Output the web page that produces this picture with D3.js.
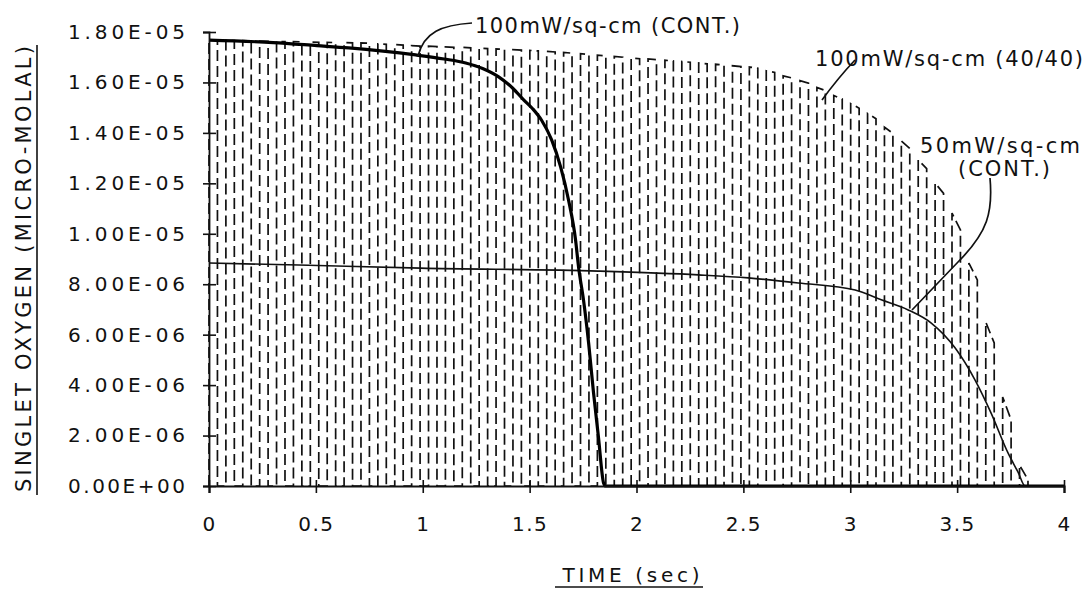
<!DOCTYPE html>
<html>
<head>
<meta charset="utf-8">
<script src="https://cdn.jsdelivr.net/npm/d3@7"></script>
<style>
  html, body { margin: 0; padding: 0; background: #fff; }
  svg { display: block; }
  text { font-family: "DejaVu Sans", sans-serif; fill: #111; }
</style>
</head>
<body>
<svg id="chart" width="1086" height="590"></svg>
<script>
// values in units of 1e-6 micro-molal
const xTicks = [0, 0.5, 1, 1.5, 2, 2.5, 3, 3.5, 4];
const xTickLabels = ["0", "0.5", "1", "1.5", "2", "2.5", "3", "3.5", "4"];
const yTicks = [0, 2, 4, 6, 8, 10, 12, 14, 16, 18];
const yTickLabels = ["0.00E+00", "2.00E-06", "4.00E-06", "6.00E-06", "8.00E-06",
  "1.00E-05", "1.20E-05", "1.40E-05", "1.60E-05", "1.80E-05"];

// 100 mW/sq-cm continuous
const cont100 = [
  [0, 17.68], [0.3, 17.58], [0.505, 17.46], [0.654, 17.37], [0.967, 17.09],
  [1.1, 16.93], [1.201, 16.77], [1.28, 16.55], [1.355, 16.22], [1.42, 15.78],
  [1.472, 15.31], [1.515, 14.95], [1.556, 14.50], [1.603, 13.72], [1.645, 12.65],
  [1.682, 11.34], [1.715, 9.75], [1.729, 8.68], [1.752, 7.38], [1.776, 5.67],
  [1.799, 3.69], [1.822, 1.94], [1.846, 0.12], [1.855, 0], [4, 0]
];

// 50 mW/sq-cm continuous
const cont50 = [
  [0, 8.84], [0.42, 8.76], [0.99, 8.64], [1.822, 8.52], [2.29, 8.37],
  [2.523, 8.25], [2.757, 8.05], [3.023, 7.77], [3.145, 7.38], [3.271, 6.98],
  [3.379, 6.46], [3.491, 5.47], [3.584, 4.20], [3.659, 2.89], [3.738, 1.31],
  [3.785, 0.55], [3.818, 0], [4, 0]
];

// 100 mW/sq-cm pulsed 40/40 : value at start and end of each light period
const pulsePeriod = 0.079;
const pulseOn = 0.0395;
const pulsePeak = [
  17.68, 17.67, 17.66, 17.64, 17.63, 17.62, 17.60, 17.59, 17.58, 17.57,
  17.53, 17.50, 17.46, 17.44, 17.41, 17.39, 17.36, 17.33, 17.30, 17.27,
  17.23, 17.19, 17.14, 17.08, 17.03, 16.97, 16.93, 16.88, 16.83, 16.77,
  16.72, 16.66, 16.61, 16.46, 16.26, 16.07, 15.80, 15.48, 15.16, 14.77,
  14.23, 13.68, 12.93, 12.01, 10.82, 8.84, 6.50, 3.53, 0.83
];
const pulseEnd = [
  17.67, 17.66, 17.65, 17.63, 17.62, 17.61, 17.59, 17.58, 17.57, 17.55,
  17.51, 17.48, 17.44, 17.42, 17.39, 17.37, 17.34, 17.31, 17.28, 17.25,
  17.21, 17.16, 17.11, 17.05, 17.00, 16.94, 16.90, 16.85, 16.80, 16.74,
  16.69, 16.63, 16.56, 16.40, 16.18, 15.97, 15.68, 15.34, 14.98, 14.56,
  13.98, 13.38, 12.58, 11.60, 10.15, 8.17, 5.67, 2.62, 0.25
];

const svg = d3.select("#chart");

const x = d3.scaleLinear().domain([0, 4]).range([209, 1064]);
const y = d3.scaleLinear().domain([0, 18]).range([486, 32]);

const line = d3.line().x(d => x(d[0])).y(d => y(d[1]));

// pulsed curve, drawn first (dashed)
const pulsePts = [];
pulsePeak.forEach((p, i) => {
  const t0 = i * pulsePeriod;
  pulsePts.push([t0, 0], [t0, p], [t0 + pulseOn, pulseEnd[i]], [t0 + pulseOn, 0]);
});
pulsePts.push([4, 0]);

svg.append("path")
  .attr("d", line(pulsePts))
  .attr("fill", "none")
  .attr("stroke", "#111")
  .attr("stroke-width", 1.7)
  .attr("stroke-dasharray", "11,5");

svg.append("path")
  .attr("d", line.curve(d3.curveMonotoneX)(cont50))
  .attr("fill", "none")
  .attr("stroke", "#111")
  .attr("stroke-width", 1.6);

svg.append("path")
  .attr("d", line.curve(d3.curveMonotoneX)(cont100))
  .attr("fill", "none")
  .attr("stroke", "#000")
  .attr("stroke-width", 3.2);

// axes
const yAxis = svg.append("g")
  .attr("transform", `translate(${x(0)},0)`)
  .call(d3.axisLeft(y).tickValues(yTicks).tickSizeOuter(0).tickSize(6).tickPadding(18)
    .tickFormat((d, i) => yTickLabels[i]));
yAxis.select(".domain").attr("stroke", "#111").attr("stroke-width", 1.8);
yAxis.selectAll(".tick line").attr("x1", -6).attr("x2", 7).attr("stroke", "#111").attr("stroke-width", 1.6);
yAxis.selectAll(".tick text")
  .attr("font-size", 20)
  .attr("textLength", 117)
  .attr("lengthAdjust", "spacing")
  .style("font-family", "'DejaVu Sans', sans-serif");

const xAxis = svg.append("g")
  .attr("transform", `translate(0,${y(0)})`)
  .call(d3.axisBottom(x).tickValues(xTicks).tickSizeOuter(0).tickSize(7)
    .tickFormat((d, i) => xTickLabels[i]));
xAxis.select(".domain").attr("stroke", "#111").attr("stroke-width", 2.2);
xAxis.selectAll(".tick line").attr("y1", -6).attr("y2", 7).attr("stroke", "#111").attr("stroke-width", 1.6);
xAxis.selectAll(".tick text")
  .attr("y", 31)
  .attr("font-size", 20)
  .attr("letter-spacing", 1.5)
  .style("font-family", "'DejaVu Sans', sans-serif");

// axis titles
svg.append("text")
  .attr("transform", "translate(31,269) rotate(-90)")
  .attr("text-anchor", "middle")
  .attr("font-size", 21)
  .attr("textLength", 446)
  .attr("lengthAdjust", "spacing")
  .text("SINGLET OXYGEN (MICRO-MOLAL)");
svg.append("line")
  .attr("x1", 37).attr("x2", 37).attr("y1", 45).attr("y2", 495)
  .attr("stroke", "#111").attr("stroke-width", 1.6);

svg.append("text")
  .attr("x", 631).attr("y", 582)
  .attr("text-anchor", "middle")
  .attr("font-size", 20)
  .attr("textLength", 137)
  .attr("lengthAdjust", "spacing")
  .text("TIME (sec)");
svg.append("line")
  .attr("x1", 555).attr("x2", 703).attr("y1", 587).attr("y2", 587)
  .attr("stroke", "#111").attr("stroke-width", 1.6);

// annotations
const ann = svg.append("g").attr("font-size", 21).attr("lengthAdjust", "spacing");
ann.append("text").attr("x", 475).attr("y", 33).attr("textLength", 265).text("100mW/sq-cm (CONT.)");
ann.append("text").attr("x", 815).attr("y", 66).attr("textLength", 268).text("100mW/sq-cm (40/40)");
ann.append("text").attr("x", 920).attr("y", 153).attr("textLength", 160).text("50mW/sq-cm");
ann.append("text").attr("x", 958).attr("y", 176).attr("textLength", 92).text("(CONT.)");

const leaders = svg.append("g").attr("fill", "none").attr("stroke", "#111").attr("stroke-width", 1.7);
leaders.append("path").attr("d", "M472,23 C442,25 424,32 418,56");
leaders.append("path").attr("d", "M855,60 Q838,78 822,100");
leaders.append("path").attr("d", "M990,178 C993,212 988,232 958,262 L912,310");
</script>
</body>
</html>
